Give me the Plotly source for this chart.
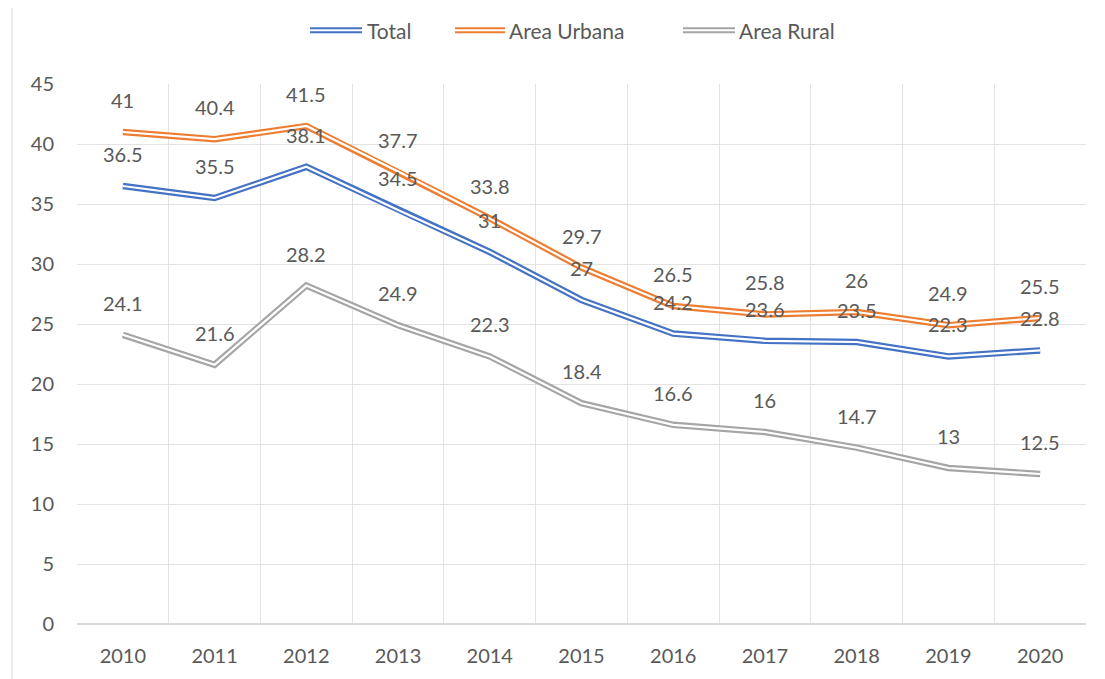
import plotly.graph_objects as go

years = [2010, 2011, 2012, 2013, 2014, 2015, 2016, 2017, 2018, 2019, 2020]
total = [36.5, 35.5, 38.1, 34.5, 31, 27, 24.2, 23.6, 23.5, 22.3, 22.8]
urbana = [41, 40.4, 41.5, 37.7, 33.8, 29.7, 26.5, 25.8, 26, 24.9, 25.5]
rural = [24.1, 21.6, 28.2, 24.9, 22.3, 18.4, 16.6, 16, 14.7, 13, 12.5]
series_names = ["Total", "Area Urbana", "Area Rural"]
colors = ["#4472C4", "#ED7D31", "#A5A5A5"]
y_ticks = [0, 5, 10, 15, 20, 25, 30, 35, 40, 45]

FONT = "Lato, Open Sans, sans-serif"
TXT = "#595959"
L, T, PW, PH = 69, 76, 1009, 542

fig = go.Figure()
for name, vals, col in zip(series_names, [total, urbana, rural], colors):
    fig.add_trace(go.Scatter(x=years, y=vals, mode="lines", name=name, showlegend=False,
                             line=dict(color=col, width=6.5)))
    fig.add_trace(go.Scatter(x=years, y=vals, mode="lines", showlegend=False,
                             line=dict(color="white", width=2.2), hoverinfo="skip"))

for vals in [total, urbana, rural]:
    for x, v in zip(years, vals):
        fig.add_annotation(x=x, y=v, text=f"{v:g}", showarrow=False, yshift=32,
                           font=dict(family=FONT, size=20, color=TXT))

# manual legend (page pixel positions converted to paper coords)
def px(xp):
    return (xp - 8 - L) / PW

ly = (626 - 30) / PH
leg = [(310, 362, 365), (455, 505, 507), (683, 735, 737)]
for (x0, x1, xt), name, col in zip(leg, series_names, colors):
    fig.add_shape(type="line", xref="paper", yref="paper", x0=px(x0), x1=px(x1), y0=ly, y1=ly,
                  line=dict(color=col, width=6))
    fig.add_shape(type="line", xref="paper", yref="paper", x0=px(x0), x1=px(x1), y0=ly, y1=ly,
                  line=dict(color="white", width=2))
    fig.add_annotation(xref="paper", yref="paper", x=px(xt), y=ly, text=name, showarrow=False,
                       xanchor="left", yanchor="middle", font=dict(family=FONT, size=21, color=TXT))

fig.add_shape(type="line", xref="paper", yref="paper", x0=px(12), x1=px(12),
              y0=-0.2, y1=1.3, line=dict(color="#D9D9D9", width=1))

fig.update_layout(
    width=1097, height=671,
    margin=dict(l=L, r=1097 - L - PW, t=T, b=671 - T - PH),
    paper_bgcolor="white", plot_bgcolor="white",
    font=dict(family=FONT, size=20, color=TXT),
    showlegend=False,
)
fig.update_xaxes(range=[2009.5, 2020.5], tickvals=years, ticktext=[str(y) for y in years],
                 showgrid=False, zeroline=False, showline=False, ticks="",
                 tickfont=dict(size=20, color=TXT), ticklabelstandoff=18,
                 minor=dict(tick0=2009.5, dtick=1, showgrid=True, gridcolor="#E3E3E3", gridwidth=1))
fig.update_yaxes(range=[0, 45], tickvals=y_ticks, showgrid=True, gridcolor="#E3E3E3",
                 zeroline=True, zerolinecolor="#D9D9D9", showline=False, ticks="",
                 ticklabelstandoff=22, tickfont=dict(size=20, color=TXT))

fig.write_html("out.html")
